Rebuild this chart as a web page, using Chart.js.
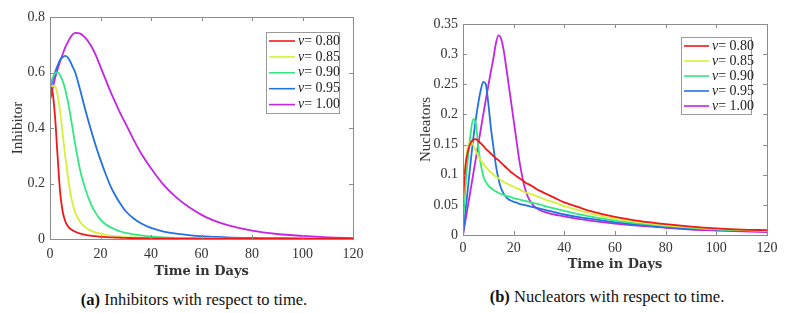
<!DOCTYPE html>
<html>
<head>
<meta charset="utf-8">
<script src="https://cdn.jsdelivr.net/npm/chart.js@4.4.1/dist/chart.umd.min.js"></script>
<style>
    body { margin: 0; background: #fff; width: 793px; height: 313px; position: relative; overflow: hidden; }
    canvas { position: absolute; top: 0; }
    .cap { position: absolute; font-family: "Liberation Serif", serif; font-size: 16.5px; color: #111;
           transform: translate(-50%, -50%); white-space: nowrap; }
</style>
</head>
<body>
<canvas id="left" width="400" height="285" style="left:0"></canvas>
<canvas id="right" width="393" height="285" style="left:400px"></canvas>
<div class="cap" style="left:194px; top:300px"><b>(a)</b> Inhibitors with respect to time.</div>
<div class="cap" style="left:607px; top:297px"><b>(b)</b> Nucleators with respect to time.</div>

<script>
    // legend values (nu) and colours
    const nuLabels = ['0.80', '0.85', '0.90', '0.95', '1.00'];
    const colors = ['#f01818', '#d6f03a', '#33e882', '#2272e4', '#c424e4'];

    // (a) inhibitors
    const timeA = [0, 1, 2, 3, 4, 5, 6, 7, 8, 9, 10, 12, 14, 16, 18, 20, 22, 24, 26, 28, 30, 33, 36, 40, 45, 50, 55, 60, 65, 70, 80, 90, 100, 110, 120];
    const inhRed = [0.55, 0.53, 0.44, 0.3, 0.17, 0.1, 0.065, 0.047, 0.037, 0.031, 0.026, 0.019, 0.015, 0.012, 0.01, 0.008, 0.007, 0.006, 0.005, 0.0045, 0.004, 0.0035, 0.003, 0.0025, 0.002, 0.0015, 0.0012, 0.001, 0.0008, 0.0007, 0.0005, 0.0004, 0.0003, 0.0002, 0.0002];
    const inhYellow = [0.53, 0.553, 0.55, 0.52, 0.46, 0.38, 0.3, 0.23, 0.17, 0.125, 0.095, 0.06, 0.042, 0.031, 0.024, 0.019, 0.015, 0.012, 0.01, 0.0085, 0.007, 0.0055, 0.0045, 0.0035, 0.0025, 0.002, 0.0015, 0.0012, 0.001, 0.0008, 0.0005, 0.0004, 0.0003, 0.0002, 0.0002];
    const inhGreen = [0.55, 0.58, 0.597, 0.6, 0.59, 0.57, 0.54, 0.5, 0.45, 0.395, 0.34, 0.245, 0.18, 0.13, 0.095, 0.07, 0.053, 0.042, 0.034, 0.027, 0.022, 0.017, 0.013, 0.009, 0.006, 0.004, 0.003, 0.002, 0.0016, 0.0013, 0.0009, 0.0006, 0.0004, 0.0003, 0.0002];
    const inhBlue = [0.53, 0.57, 0.6, 0.625, 0.645, 0.655, 0.66, 0.655, 0.64, 0.62, 0.6, 0.535, 0.465, 0.4, 0.34, 0.285, 0.235, 0.19, 0.155, 0.125, 0.1, 0.075, 0.057, 0.04, 0.027, 0.019, 0.014, 0.01, 0.008, 0.006, 0.004, 0.003, 0.002, 0.0015, 0.001];
    const inhMagenta = [0.5, 0.54, 0.58, 0.612, 0.64, 0.665, 0.69, 0.708, 0.725, 0.737, 0.743, 0.74, 0.725, 0.7, 0.665, 0.62, 0.575, 0.53, 0.49, 0.45, 0.415, 0.36, 0.31, 0.255, 0.195, 0.15, 0.115, 0.087, 0.066, 0.051, 0.03, 0.018, 0.011, 0.006, 0.0035];

    // (b) nucleators
    const timeB = [0, 1, 2, 3, 4, 5, 6, 7, 8, 9, 10, 11, 12, 13, 14, 15, 16, 17, 18, 19, 20, 21, 22, 23, 24, 25, 26, 28, 30, 33, 36, 40, 45, 50, 60, 70, 80, 90, 100, 110, 120];
    const nucRed = [0.06, 0.115, 0.14, 0.153, 0.158, 0.159, 0.156, 0.152, 0.148, 0.143, 0.139, 0.135, 0.131, 0.127, 0.124, 0.12, 0.116, 0.112, 0.108, 0.104, 0.101, 0.098, 0.095, 0.092, 0.089, 0.086, 0.084, 0.079, 0.074, 0.068, 0.062, 0.054, 0.047, 0.04, 0.03, 0.023, 0.018, 0.014, 0.011, 0.009, 0.008];
    const nucYellow = [0.05, 0.12, 0.148, 0.155, 0.15, 0.14, 0.131, 0.124, 0.118, 0.113, 0.108, 0.104, 0.1, 0.097, 0.094, 0.091, 0.088, 0.086, 0.084, 0.082, 0.08, 0.078, 0.076, 0.074, 0.072, 0.07, 0.069, 0.066, 0.063, 0.058, 0.054, 0.048, 0.042, 0.036, 0.027, 0.021, 0.016, 0.013, 0.01, 0.0085, 0.007];
    const nucGreen = [0.02, 0.08, 0.13, 0.168, 0.192, 0.187, 0.148, 0.118, 0.098, 0.088, 0.082, 0.078, 0.075, 0.072, 0.07, 0.068, 0.067, 0.065, 0.064, 0.063, 0.061, 0.06, 0.059, 0.058, 0.057, 0.056, 0.055, 0.053, 0.051, 0.047, 0.044, 0.04, 0.035, 0.031, 0.024, 0.019, 0.015, 0.012, 0.0095, 0.008, 0.0065];
    const nucBlue = [0, 0.04, 0.08, 0.12, 0.158, 0.19, 0.218, 0.24, 0.254, 0.25, 0.218, 0.178, 0.146, 0.115, 0.093, 0.078, 0.069, 0.063, 0.059, 0.057, 0.055, 0.054, 0.052, 0.051, 0.05, 0.049, 0.048, 0.046, 0.044, 0.041, 0.038, 0.034, 0.03, 0.027, 0.021, 0.017, 0.013, 0.011, 0.009, 0.007, 0.006];
    const nucMagenta = [0, 0.025, 0.05, 0.075, 0.1, 0.125, 0.15, 0.175, 0.2, 0.224, 0.248, 0.271, 0.293, 0.318, 0.331, 0.326, 0.308, 0.28, 0.25, 0.22, 0.19, 0.16, 0.13, 0.105, 0.085, 0.07, 0.06, 0.048, 0.042, 0.037, 0.034, 0.031, 0.027, 0.024, 0.019, 0.015, 0.012, 0.009, 0.0075, 0.006, 0.005];

    const serif = '"Liberation Serif", "Times New Roman", serif';

    // matlab-ish box, inward ticks and the boxed legend
    const matlabBox = {
        id: 'matlabBox',
        afterDatasetsDraw(chart, args, opts) {
            const { ctx, chartArea: a, scales: { x, y } } = chart;
            ctx.save();
            ctx.strokeStyle = '#8c8c8c';
            ctx.lineWidth = 1;
            const seg = (x1, y1, x2, y2) => { ctx.beginPath(); ctx.moveTo(x1, y1); ctx.lineTo(x2, y2); ctx.stroke(); };
            ctx.strokeRect(Math.round(a.left) + 0.5, Math.round(a.top) + 0.5, Math.round(a.right - a.left), Math.round(a.bottom - a.top));
            for (const t of x.ticks) {
                const px = Math.round(x.getPixelForValue(t.value)) + 0.5;
                seg(px, a.bottom, px, a.bottom - 4);
                seg(px, a.top, px, a.top + 4);
            }
            for (const t of y.ticks) {
                const py = Math.round(y.getPixelForValue(t.value)) + 0.5;
                seg(a.left, py, a.left + 4, py);
                seg(a.right, py, a.right - 4, py);
            }

            // legend
            const L = opts;
            ctx.fillStyle = '#fff';
            ctx.fillRect(L.x, L.y, L.w, L.h);
            ctx.strokeStyle = '#9a9a9a';
            ctx.strokeRect(L.x + 0.5, L.y + 0.5, L.w, L.h);
            ctx.textBaseline = 'middle';
            chart.data.datasets.forEach((ds, i) => {
                const cy = L.y + L.first + i * L.row;
                ctx.strokeStyle = ds.borderColor;
                ctx.lineWidth = 1.6;
                seg(L.x + 3, cy, L.x + 3 + L.line, cy);
                let tx = L.x + L.line + 6;
                ctx.fillStyle = '#222';
                ctx.font = 'italic 14px ' + serif;
                ctx.fillText('\u03bd', tx, cy);
                tx += ctx.measureText('\u03bd').width;
                ctx.font = '14px ' + serif;
                ctx.fillText('= ' + ds.label, tx, cy);
            });
            ctx.restore();
        }
    };

    function makeChart(id, times, series, yMax, yStep, yTitle, geo) {
        return new Chart(document.getElementById(id), {
            type: 'line',
            data: {
                datasets: series.map((vals, i) => ({
                    label: nuLabels[i],
                    data: times.map((t, k) => ({ x: t, y: vals[k] })),
                    borderColor: colors[i],
                    borderWidth: 1.8,
                    pointRadius: 0,
                    cubicInterpolationMode: 'monotone'
                }))
            },
            options: {
                responsive: false,
                animation: false,
                layout: { padding: { top: geo.top, right: geo.right, left: 0, bottom: 0 } },
                plugins: {
                    legend: { display: false },
                    tooltip: { enabled: false },
                    matlabBox: geo.legend
                },
                scales: {
                    x: {
                        type: 'linear', min: 0, max: 120,
                        grid: { display: false, drawTicks: false }, border: { display: false },
                        ticks: { stepSize: 20, padding: geo.xPad, color: '#333', font: { family: serif, size: 14 } },
                        title: { display: true, text: 'Time in Days', color: '#333',
                                 font: { family: '"DejaVu Serif", serif', size: 13, weight: 'bold' },
                                 padding: { top: 0, bottom: geo.xTitlePad } },
                        afterFit: s => { s.height = geo.xH; }
                    },
                    y: {
                        min: 0, max: yMax,
                        grid: { display: false, drawTicks: false }, border: { display: false },
                        ticks: { stepSize: yStep, padding: 5, color: '#333', font: { family: serif, size: 14 },
                                 callback: v => String(+v.toFixed(2)) },
                        title: { display: true, text: yTitle, color: '#333',
                                 font: { family: serif, size: 15 },
                                 padding: { top: geo.yTitlePad, bottom: 0 } },
                        afterFit: s => { s.width = geo.yW; }
                    }
                }
            },
            plugins: [matlabBox]
        });
    }

    makeChart('left', timeA, [inhRed, inhYellow, inhGreen, inhBlue, inhMagenta], 0.8, 0.2, 'Inhibitor', {
        top: 17, right: 47, xH: 46, xPad: 7, xTitlePad: 6, yW: 50, yTitlePad: 9,
        legend: { x: 266, y: 32, w: 73, h: 81, first: 9, row: 15.9, line: 26 }
    });

    makeChart('right', timeB, [nucRed, nucYellow, nucGreen, nucBlue, nucMagenta], 0.35, 0.05, 'Nucleators', {
        top: 24, right: 26, xH: 50, xPad: 5, xTitlePad: 13, yW: 63, yTitlePad: 17,
        legend: { x: 281, y: 37, w: 70, h: 77, first: 9, row: 15, line: 25 }
    });
</script>
</body>
</html>
